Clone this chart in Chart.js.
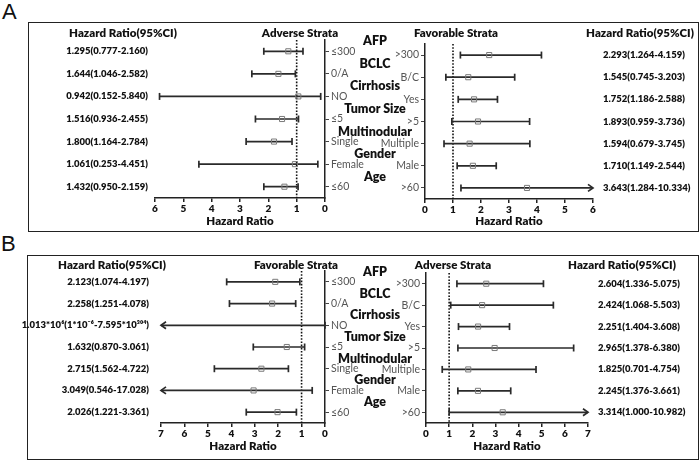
<!DOCTYPE html>
<html>
<head>
<meta charset="utf-8">
<title>Forest plot</title>
<script src="https://cdn.jsdelivr.net/npm/chart.js@4.4.1/dist/chart.umd.min.js"></script>
<style>
  body { margin: 0; background: #fff; }
  #fig { position: relative; width: 700px; height: 464px; overflow: hidden; font-family: Lato, sans-serif; color: #111; }
  .box { position: absolute; box-sizing: border-box; border: 1.5px solid #222; }
  .lbl { position: absolute; white-space: nowrap; font-weight: 800; font-size: 11.5px; line-height: 1; transform: translate(-50%, -50%); z-index: 2; }
  .panel { position: absolute; font-family: "Liberation Sans", Arial, sans-serif; font-size: 22px; line-height: 1; }
  canvas { position: absolute; z-index: 1; }
</style>
</head>
<body>
<div id="fig">
  <div class="panel" style="left:2px;top:1px">A</div>
  <div class="panel" style="left:1px;top:233px">B</div>
  <div class="box" style="left:28px;top:22px;width:671px;height:210px"></div>
  <div class="box" style="left:27px;top:255px;width:672px;height:205px"></div>

  <div class="lbl" style="left:123px;top:33px">Hazard Ratio(95%CI)</div>
  <div class="lbl" style="left:300px;top:33px">Adverse Strata</div>
  <div class="lbl" style="left:456px;top:33px">Favorable Strata</div>
  <div class="lbl" style="left:640px;top:33px">Hazard Ratio(95%CI)</div>

  <div class="lbl" style="left:112px;top:265px">Hazard Ratio(95%CI)</div>
  <div class="lbl" style="left:296px;top:265px">Favorable Strata</div>
  <div class="lbl" style="left:453px;top:265px">Adverse Strata</div>
  <div class="lbl" style="left:622px;top:265px">Hazard Ratio(95%CI)</div>

  <canvas id="aLeft" width="380" height="204" style="left:0;top:28px"></canvas>
  <canvas id="aRight" width="360" height="200" style="left:340px;top:32px"></canvas>
  <canvas id="bLeft" width="380" height="198" style="left:0;top:259px"></canvas>
  <canvas id="bRight" width="360" height="196" style="left:340px;top:261px"></canvas>
</div>

<script>
  // ---- data ----
  const groups = ["AFP", "BCLC", "Cirrhosis", "Tumor Size", "Multinodular", "Gender", "Age"];
  const lowCats = ["≤300", "0/A", "NO", "≤5", "Single", "Female", "≤60"];
  const highCats = [">300", "B/C", "Yes", ">5", "Multiple", "Male", ">60"];

  // A, left side (≤300, 0/A, ...)
  const aLowHR = [1.295, 1.644, 0.942, 1.516, 1.800, 1.061, 1.432];
  const aLowLo = [0.777, 1.046, 0.152, 0.936, 1.164, 0.253, 0.950];
  const aLowHi = [2.160, 2.582, 5.840, 2.455, 2.784, 4.451, 2.159];

  // A, right side (>300, B/C, ...)
  const aHighHR = [2.293, 1.545, 1.752, 1.893, 1.594, 1.710, 3.643];
  const aHighLo = [1.264, 0.745, 1.186, 0.959, 0.679, 1.149, 1.284];
  const aHighHi = [4.159, 3.203, 2.588, 3.736, 3.745, 2.544, 10.334];

  // B, left side
  const bLowHR = [2.123, 2.258, 1.013e6, 1.632, 2.715, 3.049, 2.026];
  const bLowLo = [1.074, 1.251, 1e-6, 0.870, 1.562, 0.546, 1.221];
  const bLowHi = [4.197, 4.078, 7.595e304, 3.061, 4.722, 17.028, 3.361];

  // B, right side
  const bHighHR = [2.604, 2.424, 2.251, 2.965, 1.825, 2.245, 3.314];
  const bHighLo = [1.336, 1.068, 1.404, 1.378, 0.701, 1.376, 1.000];
  const bHighHi = [5.075, 5.503, 3.608, 6.380, 4.754, 3.661, 10.982];

  const aTicks = [0, 1, 2, 3, 4, 5, 6];
  const bTicks = [0, 1, 2, 3, 4, 5, 6, 7];
  const refLine = 1;

  Chart.defaults.font.family = "Lato";

  const SUP = { "0": "⁰", "1": "¹", "2": "²", "3": "³", "4": "⁴", "5": "⁵", "6": "⁶", "7": "⁷", "8": "⁸", "9": "⁹", "-": "⁻" };

  function fmt(v) {
    if (v >= 1e4 || v < 1e-3) {
      const e = Math.floor(Math.log10(v) + 1e-9);
      const m = +(v / Math.pow(10, e)).toFixed(3);
      return m + "*10" + String(e).split("").map((c) => SUP[c]).join("");
    }
    return v.toFixed(3);
  }

  function forest(id, o) {
    const flip = o.side === "left"; // left-hand plot: axis runs right to left
    const n = o.hr.length;
    const hrText = o.hr.map((h, i) => `${fmt(h)}(${fmt(o.lo[i])}-${fmt(o.hi[i])})`);
    const rowTicks = (s) => { s.ticks = o.cats.map((c, i) => ({ value: i })); };

    const whiskers = {
      id: "whiskers",
      beforeDatasetsDraw(chart) {
        const { ctx, chartArea: a, scales: { x, cat } } = chart;
        ctx.save();
        const xr = x.getPixelForValue(refLine);
        ctx.strokeStyle = "#111";
        ctx.lineWidth = 1.6;
        ctx.setLineDash([1.6, 1.6]);
        ctx.beginPath();
        ctx.moveTo(xr, a.top);
        ctx.lineTo(xr, a.bottom);
        ctx.stroke();
        ctx.setLineDash([]);

        ctx.strokeStyle = "#2a2a2a";
        ctx.lineWidth = 1.7;
        for (let i = 0; i < n; i++) {
          const y = cat.getPixelForValue(i);
          const p0 = x.getPixelForValue(Math.max(o.lo[i], x.min));
          const p1 = x.getPixelForValue(Math.min(o.hi[i], x.max));
          ctx.beginPath();
          ctx.moveTo(p0, y);
          ctx.lineTo(p1, y);
          ctx.stroke();

          // lower cap
          ctx.beginPath();
          ctx.moveTo(p0, y - 3.5);
          ctx.lineTo(p0, y + 3.5);
          ctx.stroke();

          // upper cap, or an arrow when the CI runs off the axis
          ctx.beginPath();
          if (o.hi[i] > x.max) {
            const dir = p1 > p0 ? 1 : -1;
            ctx.moveTo(p1 - dir * 5, y - 3.5);
            ctx.lineTo(p1, y);
            ctx.lineTo(p1 - dir * 5, y + 3.5);
          } else {
            ctx.moveTo(p1, y - 3.5);
            ctx.lineTo(p1, y + 3.5);
          }
          ctx.stroke();
        }
        ctx.restore();
      },
    };

    return new Chart(document.getElementById(id), {
      type: "scatter",
      data: {
        datasets: [{
          data: o.hr.map((h, i) => ({ x: h, y: i })),
          xAxisID: "x",
          yAxisID: "cat",
          pointStyle: "rect",
          pointRadius: 3.6,
          borderWidth: 1,
          borderColor: "#7a7a7a",
          backgroundColor: "rgba(255,255,255,0)",
        }],
      },
      options: {
        responsive: false,
        animation: false,
        events: [],
        layout: { padding: { top: 12, left: 0, right: 0, bottom: 0 } },
        plugins: { legend: { display: false }, tooltip: { enabled: false } },
        scales: {
          x: {
            type: "linear",
            min: 0,
            max: o.ticks[o.ticks.length - 1],
            reverse: flip,
            afterBuildTicks: (s) => { s.ticks = o.ticks.map((v) => ({ value: v })); },
            afterFit: (s) => { s.height = o.xH; },
            border: { display: true, color: "#222", width: 1.5 },
            grid: { drawOnChartArea: false, tickLength: 4, color: "#222", lineWidth: 1.5 },
            ticks: { color: "#111", padding: 1, font: { size: 10, weight: "800" } },
            title: {
              display: true, text: "Hazard Ratio", color: "#111",
              font: { size: 11.5, weight: "800" }, padding: { top: 0, bottom: 4 },
            },
          },
          cat: {
            type: "linear",
            axis: "y",
            position: flip ? "right" : "left",
            min: -0.5,
            max: n - 0.5,
            reverse: true,
            afterBuildTicks: rowTicks,
            afterFit: (s) => { s.width = o.catW; },
            border: { display: true, color: "#222", width: 1.5 },
            grid: { drawOnChartArea: false, tickLength: 4, color: "#444", lineWidth: 1 },
            ticks: { autoSkip: false, color: "#555", padding: 2, font: { size: 10.5 }, callback: (v) => o.cats[v] },
          },
          val: {
            type: "linear",
            axis: "y",
            position: flip ? "left" : "right",
            min: -0.5,
            max: n - 0.5,
            reverse: true,
            afterBuildTicks: rowTicks,
            afterFit: (s) => { s.width = o.valW; },
            border: { display: false },
            grid: { display: false },
            ticks: { autoSkip: false, color: "#111", padding: o.valPad, font: { size: 9.5, weight: "800" }, callback: (v) => hrText[v] },
          },
        },
      },
      plugins: [whiskers],
    });
  }

  const aL = forest("aLeft", { side: "left", cats: lowCats, hr: aLowHR, lo: aLowLo, hi: aLowHi, ticks: aTicks, valW: 155, catW: 55, xH: 34, valPad: -1 });
  forest("aRight", { side: "right", cats: highCats, hr: aHighHR, lo: aHighLo, hi: aHighHi, ticks: aTicks, valW: 107, catW: 85, xH: 33, valPad: 2 });
  const bL = forest("bLeft", { side: "left", cats: lowCats, hr: bLowHR, lo: bLowLo, hi: bLowHi, ticks: bTicks, valW: 161, catW: 55, xH: 34, valPad: 4 });
  forest("bRight", { side: "right", cats: highCats, hr: bHighHR, lo: bHighLo, hi: bHighHi, ticks: bTicks, valW: 112, catW: 86, xH: 34, valPad: 2 });

  // group names sit between the two plots, just above each row
  const fig = document.getElementById("fig");
  [[aL, 28], [bL, 259]].forEach(([chart, top]) => {
    groups.forEach((g, i) => {
      const d = document.createElement("div");
      d.className = "lbl";
      d.style.fontSize = "12.5px";
      d.style.left = "375px";
      d.style.top = (top + chart.scales.cat.getPixelForValue(i) - 10) + "px";
      d.textContent = g;
      fig.appendChild(d);
    });
  });
</script>
</body>
</html>
